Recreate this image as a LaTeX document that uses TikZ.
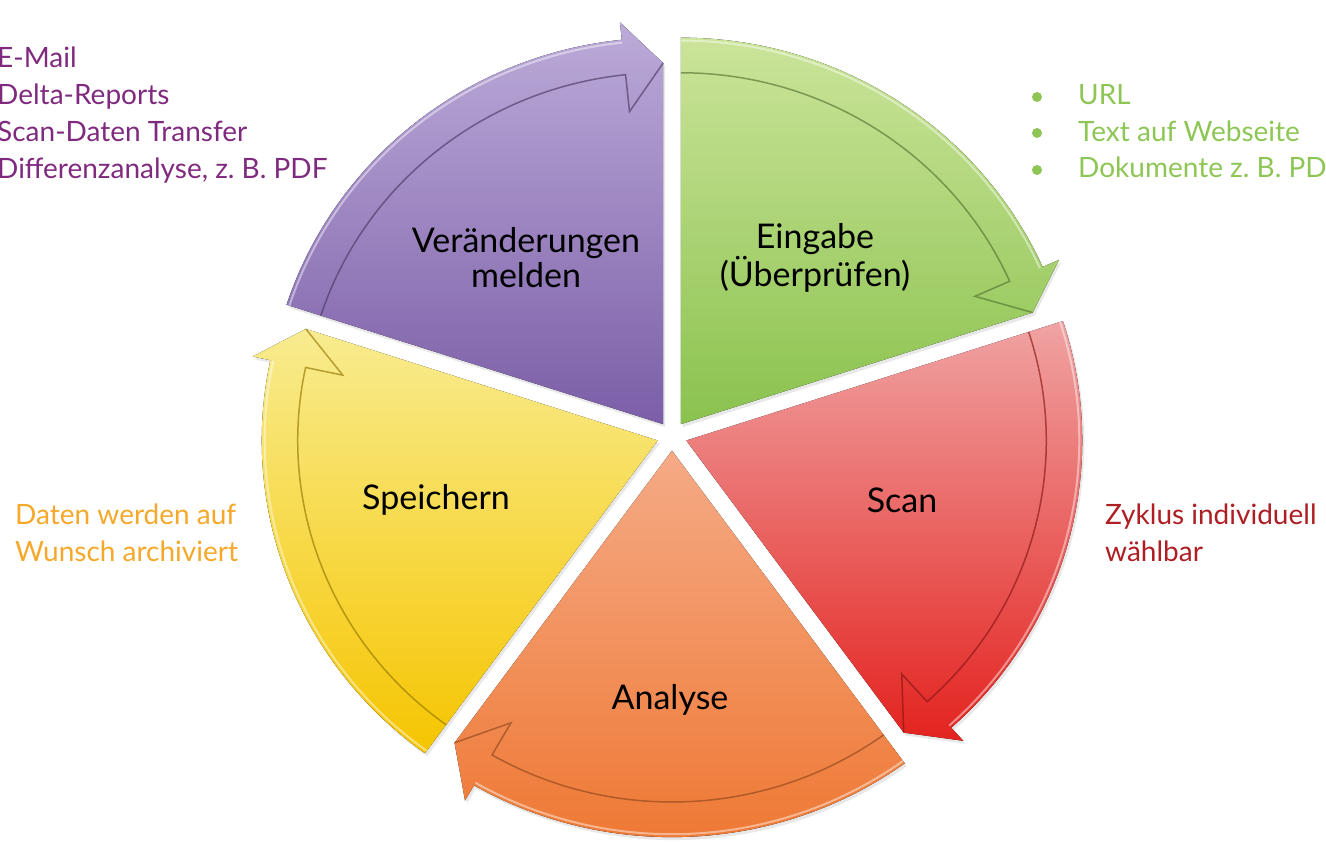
\documentclass[tikz,border=0pt]{standalone}
\usepackage{fontspec}
\setmainfont{Lato}
\usepackage{tikz}
\usetikzlibrary{shadows}
\definecolor{viotop}{HTML}{BCABD9}
\definecolor{viobot}{HTML}{7B5EA7}
\definecolor{grntop}{HTML}{CBE49A}
\definecolor{grnbot}{HTML}{8AC24E}
\definecolor{redtop}{HTML}{F0A3A3}
\definecolor{redbot}{HTML}{E3231F}
\definecolor{orgtop}{HTML}{F5AA86}
\definecolor{orgbot}{HTML}{EE7630}
\definecolor{yeltop}{HTML}{F8EC90}
\definecolor{yelbot}{HTML}{F6C500}
\definecolor{viotext}{HTML}{7F2A7F}
\definecolor{grntext}{HTML}{8DC655}
\definecolor{redtext}{HTML}{AE1E23}
\definecolor{orgtext}{HTML}{F5A82A}
\tikzset{part/.style={top color=#1top,bottom color=#1bot,
    drop shadow={opacity=.18,shadow xshift=2pt,shadow yshift=-3pt}},
  rim/.style={draw=#1bot!60!black,line width=1.5pt,draw opacity=.65},
  gloss/.style={draw=white,line width=2pt,draw opacity=.45},
  lbl/.style={font=\fontsize{34}{35}\selectfont,align=center},
  side/.style={font=\fontsize{28}{37}\selectfont,anchor=base west,inner sep=0pt},
  dot/.style={circle,fill=grntext,inner sep=0pt,minimum size=10pt}}
\begin{document}
\begin{tikzpicture}[x=1pt,y=1pt]
\useasboundingbox (0,0) rectangle (1326,842);
\coordinate (c) at (672,406);
% five parts, each with its arrow on the rim
\foreach \a/\b/\col in {162/90/vio,90/18/grn,18/-54/red,-54/-126/org,234/162/yel}{
  \begin{scope}[shift={(c)},yscale=.976,shift={({(\a+\b)/2}:15pt)}]
    \fill[part=\col] (0,0) -- (\a:396pt)
      arc[start angle=\a,end angle=\b+6,radius=396pt]
      -- (\b+6:414pt) -- (\b:370pt) -- cycle;
    \draw[gloss] (\a:393pt) arc[start angle=\a,end angle=\b+6,radius=393pt];
    \draw[rim=\col] (\a:360pt) arc[start angle=\a,end angle=\b+6,radius=360pt]
      -- (\b+6:322pt) -- (\b:370pt);
  \end{scope}
}
\node[lbl] (melden) at (526,584) {Veränderungen\\melden};
\node[lbl] (eingabe) at (815,584) {Eingabe\\(Überprüfen)};
\node[lbl] (scan) at (902,342) {Scan};
\node[lbl] (analyse) at (670,142) {Analyse};
\node[lbl] (speichern) at (436,342) {Speichern};
% purple list
\node[side,text=viotext] (mail) at (-3,774) {E-Mail};
\node[side,text=viotext] (delta) at (-3,737) {Delta-Reports};
\node[side,text=viotext] (transfer) at (-3,700) {Scan-Daten Transfer};
\node[side,text=viotext] (diff) at (-3,663) {Differenzanalyse, z.\ B. PDF};
% green list
\node[dot] (b1) at (1037,745) {};
\node[dot] (b2) at (1037,709) {};
\node[dot] (b3) at (1037,672) {};
\node[side,text=grntext] (url) at (1078,737) {URL};
\node[side,text=grntext] (webseite) at (1078,700) {Text auf Webseite};
\node[side,text=grntext] (dokumente) at (1078,664) {Dokumente z.\ B. PDF};
% red and orange notes
\node[side,text=redtext] (zyklus) at (1105,317) {Zyklus individuell};
\node[side,text=redtext] (waehlbar) at (1105,280) {wählbar};
\node[side,text=orgtext] (daten) at (15,317) {Daten werden auf};
\node[side,text=orgtext] (wunsch) at (15,280) {Wunsch archiviert};
\end{tikzpicture}
\end{document}
